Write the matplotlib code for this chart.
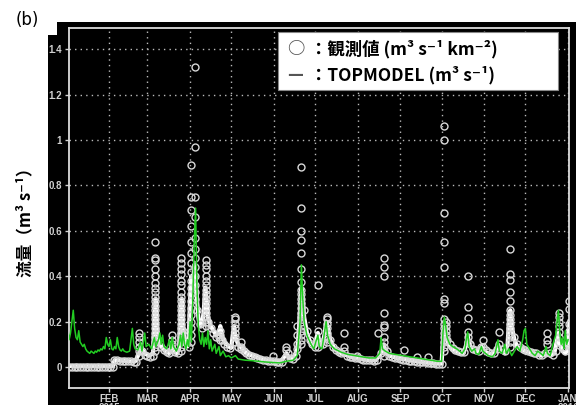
import matplotlib
matplotlib.use('Agg')
import matplotlib.pyplot as plt
from matplotlib.patches import Rectangle

plt.rcParams['font.family'] = ['Noto Sans CJK JP', 'DejaVu Sans']

# x axis: day of year 2015 (Jan 1 = 0)
month_days = [31, 59, 90, 120, 151, 181, 212, 243, 273, 304, 334, 365]
month_labels = ['FEB\n2015', 'MAR', 'APR', 'MAY', 'JUN', 'JUL', 'AUG', 'SEP',
                'OCT', 'NOV', 'DEC', 'JAN\n2016']
y_ticks = [0, 0.2, 0.4, 0.6, 0.8, 1.0, 1.2, 1.4]
y_tick_labels = ['0', '0.2', '0.4', '0.6', '0.8', '1', '1.2', '1.4']

# TOPMODEL run, white line (day, m3/s)
model_pts = [
    (1, 0.005), (10, 0.005), (20, 0.005), (34, 0.005), (35, 0.03), (40, 0.028),
    (45, 0.025), (50, 0.025), (53, 0.06), (54, 0.1), (55, 0.08), (57, 0.06),
    (60, 0.05), (63, 0.06), (64, 0.2), (65, 0.3), (66, 0.18), (67, 0.12),
    (69, 0.09), (72, 0.07), (75, 0.06), (77, 0.1), (78, 0.08), (80, 0.06),
    (82, 0.08), (83, 0.25), (84, 0.3), (85, 0.18), (86, 0.12), (88, 0.09),
    (89, 0.12), (90, 0.3), (91, 0.4), (92, 0.35), (93, 0.45), (94, 0.4),
    (95, 0.3), (96, 0.22), (97, 0.18), (99, 0.2), (100, 0.25), (101, 0.35),
    (102, 0.3), (103, 0.22), (105, 0.18), (107, 0.16), (109, 0.14), (111, 0.15),
    (112, 0.18), (113, 0.14), (115, 0.11), (118, 0.09), (120, 0.085), (121, 0.14),
    (122, 0.18), (123, 0.13), (125, 0.1), (128, 0.08), (131, 0.06), (135, 0.05),
    (140, 0.04), (145, 0.03), (150, 0.025), (155, 0.02), (158, 0.04), (160, 0.06),
    (162, 0.04), (165, 0.035), (168, 0.08), (169, 0.15), (170, 0.25), (171, 0.35),
    (172, 0.3), (173, 0.22), (175, 0.15), (178, 0.1), (181, 0.09), (182, 0.13),
    (183, 0.15), (184, 0.11), (186, 0.09), (188, 0.15), (189, 0.2), (190, 0.18),
    (192, 0.12), (195, 0.08), (200, 0.06), (205, 0.05), (210, 0.04), (215, 0.035),
    (220, 0.03), (225, 0.03), (229, 0.06), (231, 0.1), (232, 0.07), (235, 0.05),
    (240, 0.04), (245, 0.035), (250, 0.03), (255, 0.025), (260, 0.02), (265, 0.018),
    (270, 0.015), (273, 0.015), (274, 0.12), (275, 0.18), (276, 0.14), (278, 0.1),
    (280, 0.08), (283, 0.07), (286, 0.06), (289, 0.06), (291, 0.1), (292, 0.14),
    (293, 0.1), (295, 0.08), (298, 0.07), (300, 0.07), (302, 0.09), (304, 0.07),
    (307, 0.06), (310, 0.055), (313, 0.08), (314, 0.1), (316, 0.07), (319, 0.06),
    (321, 0.1), (322, 0.2), (323, 0.25), (324, 0.18), (326, 0.12), (328, 0.09),
    (331, 0.08), (334, 0.07), (337, 0.065), (340, 0.06), (343, 0.055), (346, 0.05),
    (349, 0.06), (352, 0.05), (355, 0.06), (357, 0.12), (358, 0.15), (359, 0.1),
    (361, 0.07), (363, 0.06), (365, 0.08), (366, 0.2),
]

# second TOPMODEL run, green line (day, m3/s)
green_pts = [
    (1, 0.16), (2, 0.12), (3, 0.15), (4, 0.2), (5, 0.25), (6, 0.17), (7, 0.13),
    (8, 0.12), (9, 0.16), (10, 0.11), (11, 0.1), (12, 0.09), (13, 0.1), (14, 0.08),
    (15, 0.07), (16, 0.065), (17, 0.06), (18, 0.07), (19, 0.065), (20, 0.06),
    (21, 0.07), (22, 0.065), (23, 0.075), (24, 0.07), (25, 0.08), (26, 0.075),
    (27, 0.09), (28, 0.08), (29, 0.13), (30, 0.1), (31, 0.09), (32, 0.12),
    (33, 0.08), (34, 0.075), (35, 0.09), (36, 0.08), (37, 0.13), (38, 0.09),
    (39, 0.075), (40, 0.07), (41, 0.08), (42, 0.07), (44, 0.065), (46, 0.07),
    (48, 0.17), (49, 0.1), (50, 0.08), (52, 0.075), (54, 0.11), (55, 0.07),
    (57, 0.15), (58, 0.09), (60, 0.1), (62, 0.08), (64, 0.13), (65, 0.09),
    (67, 0.12), (68, 0.15), (69, 0.1), (70, 0.14), (71, 0.09), (73, 0.08),
    (75, 0.12), (76, 0.08), (77, 0.13), (78, 0.09), (80, 0.07), (82, 0.1),
    (83, 0.14), (84, 0.09), (85, 0.15), (86, 0.1), (87, 0.08), (88, 0.12),
    (89, 0.09), (90, 0.2), (91, 0.11), (92, 0.3), (93, 0.55), (94, 0.7),
    (95, 0.35), (96, 0.18), (97, 0.12), (98, 0.1), (99, 0.15), (100, 0.09),
    (101, 0.13), (102, 0.1), (103, 0.16), (104, 0.08), (105, 0.12), (106, 0.07),
    (108, 0.1), (109, 0.06), (111, 0.09), (112, 0.05), (114, 0.07), (116, 0.045),
    (118, 0.05), (120, 0.04), (123, 0.05), (125, 0.035), (130, 0.03), (135, 0.028),
    (140, 0.025), (145, 0.022), (150, 0.02), (155, 0.018), (160, 0.025), (165, 0.03),
    (168, 0.05), (170, 0.2), (171, 0.45), (172, 0.3), (173, 0.2), (175, 0.14),
    (178, 0.1), (180, 0.08), (183, 0.14), (184, 0.09), (186, 0.08), (189, 0.2),
    (190, 0.14), (192, 0.1), (195, 0.08), (200, 0.065), (205, 0.055), (210, 0.05),
    (215, 0.045), (220, 0.04), (225, 0.04), (228, 0.06), (229, 0.13), (230, 0.08),
    (232, 0.07), (235, 0.06), (240, 0.055), (245, 0.05), (250, 0.045), (255, 0.04),
    (260, 0.035), (265, 0.03), (270, 0.025), (273, 0.025), (274, 0.15), (275, 0.22),
    (276, 0.18), (277, 0.13), (279, 0.1), (281, 0.09), (284, 0.08), (286, 0.07),
    (288, 0.06), (290, 0.08), (291, 0.12), (292, 0.155), (293, 0.09), (295, 0.07),
    (297, 0.08), (298, 0.06), (300, 0.055), (302, 0.09), (303, 0.07), (305, 0.06),
    (307, 0.05), (310, 0.045), (312, 0.06), (313, 0.09), (314, 0.12), (315, 0.07),
    (317, 0.06), (319, 0.1), (320, 0.06), (322, 0.08), (324, 0.05), (326, 0.07),
    (328, 0.09), (330, 0.07), (332, 0.12), (333, 0.16), (334, 0.17), (335, 0.1),
    (337, 0.08), (339, 0.06), (341, 0.05), (343, 0.07), (345, 0.06), (347, 0.05),
    (349, 0.09), (350, 0.06), (352, 0.05), (354, 0.1), (356, 0.14), (357, 0.2),
    (358, 0.25), (359, 0.15), (360, 0.1), (361, 0.13), (362, 0.08), (363, 0.16),
    (364, 0.1), (365, 0.12),
]

# observed specific discharge, base flow (day, m3/s/km2)
obs_base = [
    (2, 0), (4, 0), (6, 0), (8, 0), (10, 0), (12, 0), (14, 0), (16, 0), (18, 0),
    (20, 0), (22, 0), (24, 0), (26, 0), (28, 0), (30, 0), (32, 0), (34, 0),
    (35, 0.03), (37, 0.03), (39, 0.028), (41, 0.027), (43, 0.026), (45, 0.025),
    (47, 0.025), (49, 0.024), (51, 0.024), (55, 0.07), (57, 0.055), (59, 0.05),
    (61, 0.045), (63, 0.05), (67, 0.12), (69, 0.09), (71, 0.075), (73, 0.065),
    (75, 0.06), (77, 0.08), (79, 0.065), (81, 0.06), (85, 0.16), (87, 0.11),
    (89, 0.09), (95, 0.25), (97, 0.19), (99, 0.17), (103, 0.2), (105, 0.17),
    (107, 0.15), (109, 0.13), (111, 0.13), (113, 0.12), (115, 0.1), (117, 0.09),
    (119, 0.085), (125, 0.09), (127, 0.08), (129, 0.07), (131, 0.06), (133, 0.055),
    (135, 0.05), (137, 0.045), (139, 0.04), (141, 0.035), (143, 0.032), (145, 0.03),
    (147, 0.028), (149, 0.025), (151, 0.025), (153, 0.023), (155, 0.022),
    (157, 0.02), (159, 0.04), (161, 0.06), (163, 0.04), (165, 0.035), (167, 0.05),
    (173, 0.25), (175, 0.16), (177, 0.12), (179, 0.1), (181, 0.09), (185, 0.11),
    (187, 0.1), (192, 0.12), (194, 0.09), (196, 0.075), (198, 0.065), (200, 0.06),
    (204, 0.05), (206, 0.045), (208, 0.042), (210, 0.04), (212, 0.038),
    (214, 0.035), (216, 0.033), (218, 0.032), (220, 0.03), (222, 0.03),
    (224, 0.028), (226, 0.03), (229, 0.06), (233, 0.07), (235, 0.05), (237, 0.045),
    (239, 0.04), (241, 0.038), (243, 0.035), (245, 0.033), (247, 0.03),
    (249, 0.028), (251, 0.027), (253, 0.025), (255, 0.024), (257, 0.022),
    (259, 0.02), (261, 0.02), (263, 0.018), (265, 0.017), (267, 0.016),
    (269, 0.015), (271, 0.015), (273, 0.015), (277, 0.12), (279, 0.1),
    (281, 0.085), (283, 0.075), (285, 0.07), (287, 0.065), (289, 0.065),
    (294, 0.1), (296, 0.08), (298, 0.075), (300, 0.07), (302, 0.09), (305, 0.075),
    (307, 0.065), (309, 0.06), (311, 0.06), (313, 0.08), (317, 0.08), (319, 0.07),
    (326, 0.13), (328, 0.1), (330, 0.09), (332, 0.08), (334, 0.075), (336, 0.07),
    (338, 0.065), (340, 0.06), (342, 0.06), (344, 0.055), (346, 0.055),
    (348, 0.06), (352, 0.06), (354, 0.055), (356, 0.07), (361, 0.09), (363, 0.07),
    (365, 0.1),
]

# observed values during storm events (day, list of readings)
obs_peaks = [
    (53, [0.15, 0.13, 0.11, 0.09, 0.07, 0.05]),
    (64.5, [0.55, 0.48, 0.47, 0.43, 0.4, 0.37, 0.35, 0.33, 0.31, 0.29, 0.27, 0.25,
            0.23, 0.21, 0.19, 0.17, 0.15, 0.13, 0.11, 0.09, 0.07]),
    (77, [0.14, 0.12, 0.1, 0.08]),
    (83.5, [0.48, 0.46, 0.43, 0.41, 0.38, 0.36, 0.33, 0.31, 0.29, 0.27, 0.25, 0.23,
            0.21, 0.19, 0.17, 0.15, 0.13, 0.11, 0.09, 0.07]),
    (90.5, [0.89, 0.75, 0.69, 0.62, 0.55, 0.5, 0.46, 0.42, 0.38, 0.35, 0.32, 0.29,
            0.26, 0.23, 0.2, 0.17, 0.14, 0.11]),
    (93.5, [1.32, 0.97, 0.75, 0.66, 0.57, 0.52, 0.48, 0.44, 0.4, 0.36, 0.33, 0.3]),
    (101.5, [0.47, 0.45, 0.43, 0.4, 0.38, 0.36, 0.34, 0.32, 0.3, 0.28, 0.26, 0.24,
             0.22, 0.2, 0.18]),
    (112, [0.16, 0.14, 0.12]),
    (122.5, [0.22, 0.21, 0.19, 0.17, 0.15, 0.13, 0.11]),
    (127, [0.11, 0.09]),
    (150, [0.05]),
    (160, [0.09, 0.075]),
    (168, [0.18, 0.14, 0.1, 0.08]),
    (171, [0.88, 0.7, 0.6, 0.56, 0.5, 0.43, 0.375, 0.34, 0.32, 0.3, 0.28, 0.26,
           0.24, 0.22, 0.2, 0.18, 0.16, 0.14, 0.12, 0.1]),
    (183, [0.36, 0.16, 0.11, 0.09]),
    (189.5, [0.22, 0.21, 0.19, 0.17, 0.15, 0.13, 0.11]),
    (202, [0.15, 0.09, 0.07]),
    (211.5, [0.05]),
    (227, [0.15]),
    (231, [0.48, 0.44, 0.4, 0.24, 0.185, 0.175, 0.13, 0.11, 0.09, 0.07, 0.05]),
    (246, [0.075]),
    (255, [0.045]),
    (263, [0.045]),
    (274.5, [1.06, 1.0, 0.68, 0.55, 0.44, 0.3, 0.28, 0.21, 0.19, 0.17, 0.15, 0.13,
             0.11, 0.09, 0.07]),
    (276, [0.2, 0.18, 0.16, 0.14, 0.12]),
    (292, [0.4, 0.265, 0.215, 0.155, 0.13, 0.11]),
    (303, [0.12, 0.09]),
    (315, [0.155, 0.1]),
    (323, [0.52, 0.41, 0.385, 0.33, 0.29, 0.25, 0.23, 0.21, 0.19, 0.17, 0.15, 0.13,
           0.11, 0.09]),
    (350, [0.15, 0.12, 0.1]),
    (358.5, [0.24, 0.22, 0.2, 0.18, 0.155, 0.13, 0.11]),
    (365.5, [0.29, 0.255, 0.19, 0.16, 0.13, 0.11]),
]

fig = plt.figure(figsize=(5.76, 4.05), dpi=100)
fig.patch.set_facecolor('white')

# black panel behind the plot
fig.add_artist(Rectangle((48 / 576, 0), 1, 370 / 405, transform=fig.transFigure,
                         facecolor='black', edgecolor='none', zorder=0))
fig.add_artist(Rectangle((57 / 576, 0), 1, 383 / 405, transform=fig.transFigure,
                         facecolor='black', edgecolor='none', zorder=0))

ax = fig.add_axes([69 / 576, 17 / 405, 500 / 576, 360 / 405])
ax.set_facecolor('black')

obs_x = [d for d, q in obs_base]
obs_y = [q for d, q in obs_base]
for d, vals in obs_peaks:
    obs_x += [d] * len(vals)
    obs_y += vals

ax.plot([d for d, q in model_pts], [q for d, q in model_pts],
        color='white', lw=3.0, zorder=3)
ax.plot(obs_x, obs_y, ls='none', marker='o', ms=5, mfc='none',
        mec='#d8d8d8', mew=1.0, zorder=4)
ax.plot([d for d, q in green_pts], [q for d, q in green_pts],
        color='#22cc22', lw=1.1, zorder=5)

ax.set_xlim(1.9, 365.7)
ax.set_ylim(-0.0925, 1.493)
ax.set_xticks(month_days)
ax.set_xticklabels(month_labels, linespacing=0.85)
ax.set_yticks(y_ticks)
ax.set_yticklabels(y_tick_labels)
ax.grid(True, color='#bbbbbb', ls=(0, (1, 3)), lw=1.0)
ax.tick_params(colors='#d0d0d0', length=3, width=1, labelsize=7, pad=2)
ax.tick_params(axis='x', pad=1.5)
for lab in ax.get_xticklabels() + ax.get_yticklabels():
    lab.set_family(['Liberation Sans', 'DejaVu Sans'])
    lab.set_fontweight('bold')
    lab.set_color('#d0d0d0')
for sp in ax.spines.values():
    sp.set_color('#dddddd')
    sp.set_linewidth(1.3)

# legend box
ax.add_patch(Rectangle((0.418, 0.828), 0.56, 0.161, transform=ax.transAxes,
                       facecolor='white', edgecolor='#888888', lw=0.8, zorder=10))
legend_font = dict(transform=ax.transAxes, fontsize=12.5, fontweight='bold',
                   va='center', ha='left', zorder=11,
                   family=['Noto Sans CJK JP', 'DejaVu Sans'])
ax.text(0.436, 0.942, '○', color='#555555', **legend_font)
ax.text(0.482, 0.942, '：観測値 (m³ s⁻¹ km⁻²)', color='black', **legend_font)
ax.text(0.436, 0.869, '—', color='#555555', **legend_font)
ax.text(0.482, 0.869, '：TOPMODEL (m³ s⁻¹)', color='black', **legend_font)

fig.text(0.047, 0.951, '(b)', fontsize=12, ha='center', va='center',
         family=['DejaVu Sans'])
fig.text(0.044, 0.46, '流量（m³ s⁻¹）', rotation=90, fontsize=12,
         fontweight='bold', ha='center', va='center',
         family=['Noto Sans CJK JP', 'DejaVu Sans'])

fig.savefig('out.png', dpi=100)
